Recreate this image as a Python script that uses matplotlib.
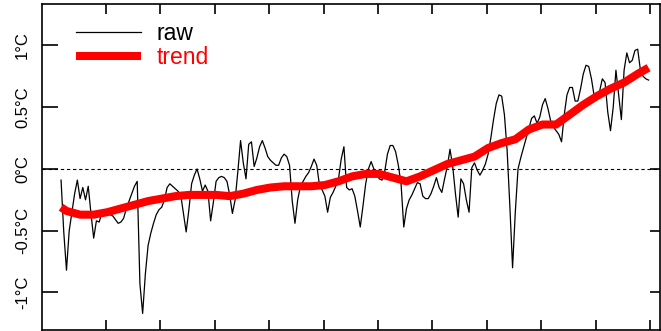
"""Raw temperature anomaly series with its smoothed trend."""
import numpy as np
import matplotlib
matplotlib.use("Agg")
import matplotlib.pyplot as plt

plt.rcParams['font.family'] = ['Liberation Sans', 'DejaVu Sans']

# ============================================================
# Data (anomalies in deg C)
# ============================================================
years = np.arange(1783, 2000)

raw = [
    -0.09, -0.51, -0.82, -0.50, -0.35, -0.20, -0.09, -0.24, -0.15, -0.25,   # 1783-1792
    -0.14, -0.36, -0.56, -0.42, -0.43, -0.36, -0.34, -0.36, -0.37, -0.38,   # 1793-1802
    -0.41, -0.44, -0.43, -0.40, -0.32, -0.26, -0.20, -0.14, -0.10, -0.93,   # 1803-1812
    -1.17, -0.85, -0.62, -0.52, -0.44, -0.37, -0.33, -0.31, -0.25, -0.15,   # 1813-1822
    -0.12, -0.14, -0.16, -0.18, -0.21, -0.36, -0.51, -0.33, -0.12, -0.05,   # 1823-1832
    0.00, -0.08, -0.18, -0.13, -0.18, -0.42, -0.27, -0.10, -0.07, -0.06,    # 1833-1842
    -0.07, -0.10, -0.21, -0.36, -0.25, -0.02, 0.23, 0.05, -0.08, 0.20,      # 1843-1852
    0.22, 0.02, 0.09, 0.18, 0.23, 0.17, 0.10, 0.07, 0.05, 0.03,             # 1853-1862
    0.03, 0.09, 0.12, 0.10, 0.03, -0.26, -0.44, -0.25, -0.14, -0.10,        # 1863-1872
    -0.06, -0.03, 0.02, 0.08, 0.03, -0.13, -0.17, -0.22, -0.35, -0.23,      # 1873-1882
    -0.19, -0.14, -0.08, 0.08, 0.18, -0.15, -0.17, -0.16, -0.22, -0.34,     # 1883-1892
    -0.47, -0.30, -0.12, 0.00, 0.06, 0.00, -0.04, -0.08, -0.09, -0.02,      # 1893-1902
    0.12, 0.19, 0.19, 0.14, 0.03, -0.12, -0.47, -0.32, -0.25, -0.21,        # 1903-1912
    -0.16, -0.11, -0.12, -0.22, -0.24, -0.24, -0.20, -0.14, -0.07, -0.15,   # 1913-1922
    -0.19, -0.08, 0.02, 0.16, 0.02, -0.20, -0.39, -0.08, -0.12, -0.25,      # 1923-1932
    -0.35, 0.01, 0.05, -0.01, -0.05, -0.01, 0.04, 0.12, 0.25, 0.40,         # 1933-1942
    0.53, 0.60, 0.59, 0.44, 0.15, -0.30, -0.80, -0.35, 0.00, 0.09,          # 1943-1952
    0.17, 0.25, 0.33, 0.41, 0.43, 0.37, 0.42, 0.52, 0.57, 0.49,             # 1953-1962
    0.39, 0.34, 0.31, 0.28, 0.22, 0.44, 0.60, 0.66, 0.66, 0.55,             # 1963-1972
    0.55, 0.65, 0.77, 0.84, 0.83, 0.73, 0.59, 0.56, 0.63, 0.73,             # 1973-1982
    0.70, 0.46, 0.31, 0.50, 0.80, 0.60, 0.40, 0.80, 0.94, 0.86,             # 1983-1992
    0.88, 0.96, 0.97, 0.80, 0.75, 0.73, 0.72,                               # 1993-1999
]

trend_years = [1783, 1785, 1790, 1795, 1800, 1805, 1810, 1815, 1820, 1825,
               1830, 1835, 1840, 1845, 1850, 1855, 1860, 1865, 1870, 1875,
               1880, 1885, 1890, 1895, 1900, 1905, 1910, 1915, 1920, 1925,
               1930, 1935, 1940, 1945, 1950, 1955, 1960, 1965, 1970, 1975,
               1980, 1985, 1990, 1995, 1999]
trend = [-0.31, -0.34, -0.37, -0.37, -0.35, -0.32, -0.29, -0.26, -0.24, -0.22,
         -0.21, -0.21, -0.21, -0.22, -0.20, -0.17, -0.15, -0.14, -0.14, -0.14,
         -0.13, -0.10, -0.06, -0.04, -0.04, -0.07, -0.10, -0.06, -0.01, 0.04,
         0.07, 0.10, 0.17, 0.21, 0.24, 0.32, 0.36, 0.36, 0.44, 0.52,
         0.59, 0.65, 0.70, 0.77, 0.82]

ytick_vals = [-1, -0.5, 0, 0.5, 1]
ytick_labels = ['-1°C', '-0.5°C', '0°C', '0.5°C', '1°C']
xtick_vals = np.arange(1800, 2001, 20)

# ============================================================
# Plot
# ============================================================
fig = plt.figure(figsize=(6.61, 3.31), dpi=100)
ax = fig.add_axes([42 / 661, 1 / 331, 618 / 661, 326 / 331])

ax.axhline(0, color='black', linewidth=0.8, dashes=(3, 2.5))
ax.plot(years + 0.5, raw, color='black', linewidth=0.9, label='raw')
ax.plot(np.array(trend_years) + 0.5, trend, color='#ff0000', linewidth=5.8,
        solid_capstyle='butt', label='trend')

ax.set_xlim(1776.5, 2003.7)
ax.set_ylim(-1.304, 1.336)

ax.set_xticks(xtick_vals)
ax.set_xticklabels([])
ax.set_yticks(ytick_vals)
ax.set_yticklabels(ytick_labels, rotation=90, va='center')

for side in ['left', 'right', 'top', 'bottom']:
    ax.spines[side].set_linewidth(1.2)
ax.tick_params(axis='y', which='both', direction='in', left=True, right=True,
               length=11.5, width=1.2, labelsize=12, pad=8.5)
ax.tick_params(axis='x', which='both', direction='in', top=True, bottom=True,
               length=7, width=1.2)
# left ticks are longer than right ones in the reference
for t in ax.yaxis.get_major_ticks():
    t.tick1line.set_markersize(11.5)
    t.tick2line.set_markersize(7)

leg = ax.legend(loc='upper left', bbox_to_anchor=(0.055, 0.945), frameon=False,
                fontsize=16.5, handlelength=2.85, handletextpad=0.65,
                labelspacing=0.05, borderpad=0, borderaxespad=0)
leg.get_texts()[1].set_color('#ff0000')

fig.savefig('out.png', dpi=100)
